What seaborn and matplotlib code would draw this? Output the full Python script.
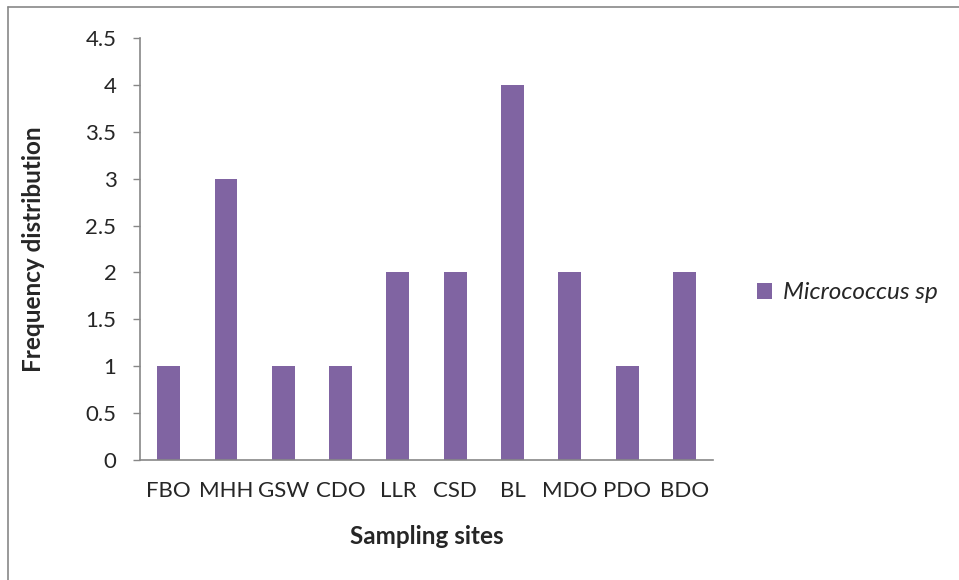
import matplotlib
matplotlib.use("Agg")
import matplotlib.pyplot as plt
from matplotlib.lines import Line2D
from matplotlib.patches import Patch
import seaborn as sns
import pandas as pd

sites = ["FBO", "MHH", "GSW", "CDO", "LLR", "CSD", "BL", "MDO", "PDO", "BDO"]
counts = [1, 3, 1, 1, 2, 2, 4, 2, 1, 2]
series_name = "Micrococcus sp"
y_ticks = [0, 0.5, 1, 1.5, 2, 2.5, 3, 3.5, 4, 4.5]

bar_color = "#8064A2"
axis_grey = "#878787"

sns.set_style("white")
plt.rcParams["font.family"] = ["Lato", "DejaVu Sans"]

df = pd.DataFrame({"site": sites, "count": counts})

fig = plt.figure(figsize=(9.59, 5.80), dpi=100)
ax = fig.add_axes([0.146, 0.2069, 0.5975, 0.7276])

sns.barplot(data=df, x="site", y="count", color=bar_color, saturation=1,
            width=0.4, ax=ax, edgecolor="none")

ax.set_xlim(-0.5, len(sites) - 0.5)
ax.set_ylim(0, 4.5)
ax.set_yticks(y_ticks)
ax.set_yticklabels([f"{t:g}" for t in y_ticks], fontsize=16)
ax.tick_params(axis="x", length=0, labelsize=16, pad=15)
ax.tick_params(axis="y", length=5, width=1, color=axis_grey, direction="out",
               left=True, pad=12)

for side in ("top", "right"):
    ax.spines[side].set_visible(False)
for side in ("left", "bottom"):
    ax.spines[side].set_color(axis_grey)
    ax.spines[side].set_linewidth(1.2)

ax.set_xlabel("Sampling sites", fontsize=17.5, fontweight="bold")
ax.set_ylabel("Frequency distribution", fontsize=17.5, fontweight="bold")
ax.xaxis.set_label_coords(0.5, -0.155)
ax.yaxis.set_label_coords(-0.166, 0.5)

handle = Patch(facecolor=bar_color, edgecolor="none")
leg = fig.legend([handle], [series_name], loc="center left",
                 bbox_to_anchor=(0.777, 0.495), frameon=False,
                 handlelength=0.6, handleheight=0.6, handletextpad=0.45,
                 borderpad=0, prop={"style": "italic", "size": 17.5})

# chart frame along the left and top edges
fig.add_artist(Line2D([0.0085, 0.0085], [0, 0.988], transform=fig.transFigure,
                      color=axis_grey, lw=1.2))
fig.add_artist(Line2D([0.0085, 1.0], [0.988, 0.988], transform=fig.transFigure,
                      color=axis_grey, lw=1.2))

fig.savefig("out.png", dpi=100)
